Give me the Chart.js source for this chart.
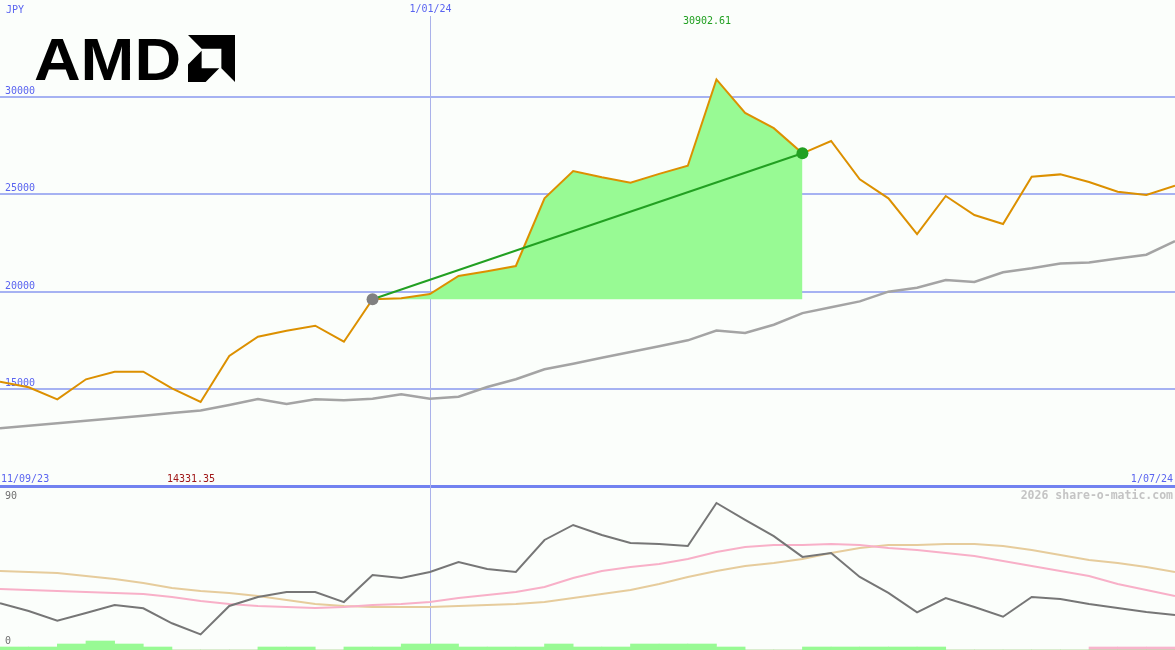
<!DOCTYPE html>
<html>
<head>
<meta charset="utf-8">
<script src="https://cdn.jsdelivr.net/npm/chart.js@4.4.1/dist/chart.umd.min.js"></script>
<style>
  html, body { margin: 0; padding: 0; background: #fbfefb; }
  canvas { display: block; }
</style>
</head>
<body>
<canvas id="chart" width="1175" height="650"></canvas>
<script>
// weekly closes, JPY
var dates = ['18/09/23','25/09/23','2/10/23','9/10/23','16/10/23','23/10/23','30/10/23','6/11/23','13/11/23','20/11/23',
  '27/11/23','4/12/23','11/12/23','18/12/23','25/12/23','1/01/24','8/01/24','15/01/24','22/01/24','29/01/24',
  '5/02/24','12/02/24','19/02/24','26/02/24','4/03/24','11/03/24','18/03/24','25/03/24','1/04/24','8/04/24',
  '15/04/24','22/04/24','29/04/24','6/05/24','13/05/24','20/05/24','27/05/24','3/06/24','10/06/24','17/06/24',
  '24/06/24','1/07/24'];

var price = [15375, 15087, 14470, 15498, 15890, 15890, 15034, 14331.35, 16695, 17687,
  17995, 18252, 17430, 19608, 19659, 19880, 20805, 21050, 21318, 24796,
  26198, 25874, 25600, 26050, 26470, 30902.61, 29180, 28400, 27108, 27740,
  25772, 24796, 22962, 24914, 23938, 23476, 25906, 26025, 25634, 25136,
  24966, 25444];

var average = [12981, 13110, 13240, 13370, 13500, 13630, 13770, 13900, 14180, 14480,
  14230, 14470, 14420, 14500, 14728, 14502, 14604, 15100, 15500, 16012,
  16300, 16608, 16900, 17200, 17500, 18000, 17880, 18300, 18900, 19200,
  19500, 20000, 20200, 20600, 20500, 21000, 21200, 21450, 21500, 21700,
  21900, 22600];

// lower panel (0..90 style oscillator)
var oscFast = [28.7, 23.9, 18.0, 22.7, 27.6, 25.6, 16.4, 9.6, 27.0, 32.5,
  35.6, 35.6, 29.4, 46.0, 44.2, 47.9, 54.0, 49.7, 47.9, 67.5,
  76.7, 70.6, 65.6, 65.0, 63.8, 90.2, 79.8, 69.9, 57.1, 59.5,
  44.8, 35.0, 23.1, 31.9, 26.4, 20.4, 32.5, 31.3, 28.2, 25.8,
  23.3, 21.5];
var oscMid = [37.4, 36.8, 36.2, 35.6, 35.0, 34.4, 32.5, 30.1, 28.2, 27.0,
  26.4, 25.8, 26.4, 27.6, 28.2, 29.4, 31.9, 33.7, 35.6, 38.7,
  44.2, 48.5, 50.9, 52.8, 55.8, 60.1, 63.2, 64.4, 64.4, 65.0,
  64.4, 62.6, 61.3, 59.5, 57.7, 54.6, 51.5, 48.5, 45.4, 40.5,
  36.8, 33.1];
var oscSlow = [48.5, 47.9, 47.2, 45.4, 43.6, 41.1, 38.0, 36.2, 35.0, 33.1,
  30.7, 28.2, 27.0, 26.4, 26.4, 26.4, 27.0, 27.6, 28.2, 29.4,
  31.9, 34.4, 36.8, 40.5, 44.8, 48.5, 51.5, 53.4, 55.8, 59.5,
  62.6, 64.4, 64.4, 65.0, 65.0, 63.8, 61.3, 58.3, 55.2, 53.4,
  50.9, 47.9];

// signal strips along the bottom, one per week interval
var signalUp = [1,1,2,3,2,1,0,0,0,1, 1,0,1,1,2,2,1,1,1,2, 1,1,2,2,2,1,0,0,1,1, 1,1,1,0,0,0,0,0,0,0, 0];
var signalDown = [0,0,0,0,0,0,0,0,0,0, 0,0,0,0,0,0,0,0,0,0, 0,0,0,0,0,0,0,0,0,0, 0,0,0,0,0,0,0,0,1,1, 1];

var gridValues = [15000, 20000, 25000, 30000];
var panelBase = 10000;
var trendFrom = 13, trendTo = 28;
var markDate = 15;

var areaData = price.map(function(v, i){ return (i >= trendFrom && i <= trendTo) ? v : null; });
var trendData = price.map(function(v, i){ return (i == trendFrom || i == trendTo) ? v : null; });

var FONT = '"DejaVu Sans Mono", monospace';

var deco = {
  id: 'deco',
  beforeDatasetsDraw: function(chart){
    var ctx = chart.ctx, y = chart.scales.y, x = chart.scales.x;
    var left = chart.chartArea.left, right = chart.chartArea.right;
    ctx.save();
    // horizontal grid
    ctx.strokeStyle = '#a6b2f2';
    ctx.lineWidth = 2;
    gridValues.forEach(function(v){
      var py = Math.round(y.getPixelForValue(v));
      ctx.beginPath(); ctx.moveTo(left, py); ctx.lineTo(right, py); ctx.stroke();
    });
    // panel divider
    ctx.strokeStyle = '#7282f0';
    ctx.lineWidth = 3;
    var by = Math.round(y.getPixelForValue(panelBase)) + 0.5;
    ctx.beginPath(); ctx.moveTo(left, by); ctx.lineTo(right, by); ctx.stroke();

    // date marker line
    var lx = Math.round(x.getPixelForValue(markDate)) + 0.5;
    ctx.strokeStyle = '#aab2ea';
    ctx.lineWidth = 1;
    ctx.beginPath(); ctx.moveTo(lx, 16); ctx.lineTo(lx, 650); ctx.stroke();

    ctx.font = '10px ' + FONT;
    ctx.textBaseline = 'middle';
    ctx.fillStyle = '#5a64f0';
    ctx.textAlign = 'left';
    ctx.fillText('JPY', 6, 10);
    gridValues.forEach(function(v){
      ctx.fillText(String(v), 5, Math.round(y.getPixelForValue(v)) - 6);
    });
    ctx.fillText('11/09/23', 1, 479);
    ctx.textAlign = 'center';
    ctx.fillText(dates[markDate], lx, 9);
    ctx.textAlign = 'right';
    ctx.fillText(dates[dates.length - 1], 1173, 479);

    ctx.textAlign = 'center';
    ctx.fillStyle = '#22a022';
    ctx.fillText(String(Math.max.apply(null, price)), 707, 21);
    ctx.fillStyle = '#a01818';
    ctx.fillText(String(Math.min.apply(null, price)), 191, 479);

    ctx.textAlign = 'left';
    ctx.fillStyle = '#707070';
    ctx.fillText('90', 5, 496);
    ctx.fillText('0', 5, 641);

    ctx.textAlign = 'right';
    ctx.fillStyle = '#c4c4c4';
    ctx.font = 'bold 11.5px ' + FONT;
    ctx.fillText('2026 share-o-matic.com', 1173, 496);

    // logo
    ctx.fillStyle = '#000';
    ctx.font = 'bold 60px "Liberation Sans", Arial, sans-serif';
    ctx.textBaseline = 'alphabetic';
    ctx.textAlign = 'left';
    var w = ctx.measureText('AMD').width;
    ctx.save();
    ctx.translate(34, 80);
    ctx.scale(147 / w, 1);
    ctx.fillText('AMD', 0, 0);
    ctx.restore();
    var ox = 188, oy = 35, s = 47;
    function poly(pts){
      ctx.beginPath();
      pts.forEach(function(p, i){
        var px = ox + p[0] * s, py = oy + p[1] * s;
        if (i) ctx.lineTo(px, py); else ctx.moveTo(px, py);
      });
      ctx.closePath(); ctx.fill();
    }
    poly([[0,0],[1,0],[1,1],[0.71,0.71],[0.71,0.29],[0.29,0.29]]);
    poly([[0.29,0.335],[0,0.625],[0,1],[0.375,1],[0.665,0.71],[0.29,0.71]]);
    ctx.restore();
  }
};

new Chart(document.getElementById('chart'), {
  type: 'line',
  data: {
    labels: dates,
    datasets: [
      {
        data: areaData, fill: { value: price[trendFrom] },
        backgroundColor: '#98fa94', borderWidth: 0, pointRadius: 0, order: 20
      },
      {
        data: average, borderColor: '#a4a4a4', borderWidth: 2.5,
        pointRadius: 0, tension: 0, order: 12
      },
      {
        data: price, borderColor: '#dc9000', borderWidth: 2,
        pointRadius: 0, tension: 0, order: 5
      },
      {
        data: trendData, spanGaps: true, borderColor: '#22a022', borderWidth: 2,
        pointRadius: 6, pointHoverRadius: 6, pointBorderWidth: 0,
        pointBackgroundColor: trendData.map(function(v, i){ return i == trendFrom ? '#808080' : '#22a022'; }),
        order: 3
      },
      {
        type: 'bar', xAxisID: 'xb', yAxisID: 'y3', data: signalUp, grouped: false,
        backgroundColor: '#98fa94', barPercentage: 1, categoryPercentage: 1, borderWidth: 0, order: 15
      },
      {
        type: 'bar', xAxisID: 'xb', yAxisID: 'y3', data: signalDown, grouped: false,
        backgroundColor: '#f8b4cc', barPercentage: 1, categoryPercentage: 1, borderWidth: 0, order: 15
      },
      {
        data: oscSlow, yAxisID: 'y2', borderColor: '#e6cc9c', borderWidth: 2,
        pointRadius: 0, order: 9
      },
      {
        data: oscMid, yAxisID: 'y2', borderColor: '#f8b0c8', borderWidth: 2,
        pointRadius: 0, order: 8
      },
      {
        data: oscFast, yAxisID: 'y2', borderColor: '#767676', borderWidth: 2,
        pointRadius: 0, order: 7
      }
    ]
  },
  options: {
    responsive: false,
    animation: false,
    devicePixelRatio: 1,
    layout: { padding: 0, autoPadding: false },
    plugins: { legend: { display: false }, tooltip: { enabled: false } },
    scales: {
      x: { display: false, offset: false },
      xb: { type: 'category', labels: dates.slice(0, dates.length - 1), display: false, offset: true },
      y: { display: false, min: 1592, max: 34983 },
      y2: { display: false, min: 0, max: 398.8 },
      y3: { display: false, min: 0, max: 216.67 }
    }
  },
  plugins: [deco]
});
</script>
</body>
</html>
